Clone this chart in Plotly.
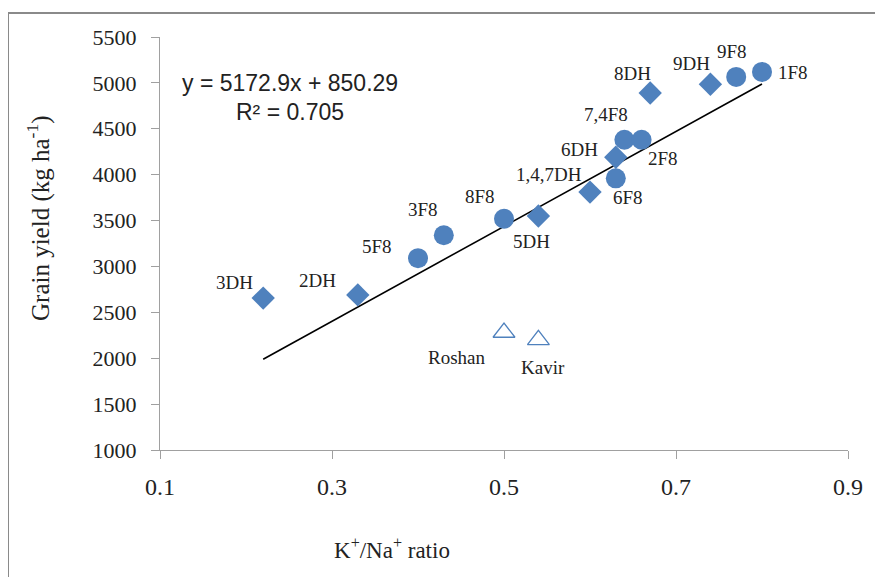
import plotly.graph_objects as go

# ---- data ----
f8_names = ["5F8", "3F8", "8F8", "6F8", "7,4F8", "2F8", "9F8", "1F8"]
f8_x = [0.40, 0.43, 0.50, 0.63, 0.64, 0.66, 0.77, 0.80]
f8_y = [3090, 3340, 3520, 3960, 4380, 4380, 5065, 5120]

dh_names = ["3DH", "2DH", "5DH", "1,4,7DH", "6DH", "8DH", "9DH"]
dh_x = [0.22, 0.33, 0.54, 0.60, 0.63, 0.67, 0.74]
dh_y = [2655, 2690, 3550, 3810, 4190, 4890, 4985]

check_names = ["Roshan", "Kavir"]
check_x = [0.50, 0.54]
check_y = [2280, 2200]

slope = 5172.9
intercept = 850.29
r2 = 0.705

x_ticks = [0.1, 0.3, 0.5, 0.7, 0.9]
y_ticks = [1000, 1500, 2000, 2500, 3000, 3500, 4000, 4500, 5000, 5500]

# label offsets in pixels (dx right, dy down)
f8_offsets = [(-41, -12), (-21, -26), (-24, -22), (12, 19), (-18, -25), (21, 19), (-4, -25), (31, 1)]
dh_offsets = [(-29, -16), (-40, -14), (-7, 26), (-41, -18), (-36, -8), (-18, -19), (-19, -21)]
check_offsets = [(-47, 25), (5, 28)]

BLUE = "#4F81BD"
SERIF = "Liberation Serif"

# plot-area geometry (page pixels, body has 8px margin)
PX0, PX1, PY0, PY1 = 160, 848, 37, 450
PW, PH = PX1 - PX0, PY1 - PY0


def px(x):
    return (x - PX0) / PW


def py(y):
    return (PY1 - y) / PH


fig = go.Figure()

# trend line over range of fitted data
all_x = f8_x + dh_x
x0, x1 = min(all_x), max(all_x)
fig.add_trace(go.Scatter(x=[x0, x1], y=[slope * x0 + intercept, slope * x1 + intercept],
                         mode="lines", line=dict(color="black", width=1.6),
                         hoverinfo="skip", showlegend=False))

fig.add_trace(go.Scatter(x=dh_x, y=dh_y, mode="markers",
                         marker=dict(symbol="diamond", size=18, color=BLUE, line=dict(width=0)),
                         text=dh_names, showlegend=False))
fig.add_trace(go.Scatter(x=f8_x, y=f8_y, mode="markers",
                         marker=dict(symbol="circle", size=20, color=BLUE, line=dict(width=0)),
                         text=f8_names, showlegend=False))
fig.add_trace(go.Scatter(x=check_x, y=check_y, mode="markers",
                         marker=dict(symbol="triangle-up-open", size=19, color=BLUE,
                                     line=dict(width=1.3, color=BLUE)),
                         text=check_names, showlegend=False))

annotations = []
for names, xs, ys, offs in [(f8_names, f8_x, f8_y, f8_offsets),
                            (dh_names, dh_x, dh_y, dh_offsets),
                            (check_names, check_x, check_y, check_offsets)]:
    for n, xv, yv, (dx, dy) in zip(names, xs, ys, offs):
        annotations.append(dict(x=xv, y=yv, xref="x", yref="y", text=n, showarrow=False,
                                xanchor="center", yanchor="middle",
                                xshift=dx, yshift=-dy,
                                font=dict(family=SERIF, size=19, color="#222")))

# regression equation
annotations.append(dict(x=px(290), y=py(83), xref="paper", yref="paper",
                        xanchor="center", yanchor="middle",
                        text=f"y = {slope}x + {intercept}", showarrow=False,
                        font=dict(family="Liberation Sans", size=23, color="#222")))
annotations.append(dict(x=px(290), y=py(112), xref="paper", yref="paper",
                        xanchor="center", yanchor="middle",
                        text=f"R² = {r2}", showarrow=False,
                        font=dict(family="Liberation Sans", size=23, color="#222")))

# axis titles
annotations.append(dict(x=px(38), y=py(218), xref="paper", yref="paper",
                        xanchor="center", yanchor="middle",
                        text="Grain yield (kg ha<sup>-1</sup>)", showarrow=False, textangle=-90,
                        font=dict(family=SERIF, size=25, color="#222")))
annotations.append(dict(x=px(392), y=py(548), xref="paper", yref="paper",
                        xanchor="center", yanchor="middle",
                        text="K<sup>+</sup>/Na<sup>+</sup> ratio", showarrow=False,
                        font=dict(family=SERIF, size=23, color="#222")))

shapes = [
    dict(type="line", xref="paper", yref="paper", x0=px(8), x1=px(900),
         y0=py(13), y1=py(13), line=dict(color="#8a8a8a", width=2)),
    dict(type="line", xref="paper", yref="paper", x0=px(8), x1=px(8),
         y0=py(13), y1=py(600), line=dict(color="#8a8a8a", width=2)),
]

fig.update_layout(
    width=883, height=577,
    margin=dict(l=PX0 - 8, r=883 - PX1 + 8, t=PY0 - 8, b=577 - PY1 + 8),
    paper_bgcolor="white", plot_bgcolor="white",
    annotations=annotations, shapes=shapes,
    xaxis=dict(range=[0.1, 0.9], tickvals=x_ticks, ticktext=[str(v) for v in x_ticks],
               showgrid=False, zeroline=False, showline=True, linecolor="#a0a0a0", linewidth=1.2,
               ticks="outside", ticklen=8, tickcolor="#a0a0a0", ticklabelstandoff=7,
               tickfont=dict(family=SERIF, size=24, color="#222")),
    yaxis=dict(range=[1000, 5500], tickvals=y_ticks,
               showgrid=False, zeroline=False, showline=True, linecolor="#a0a0a0", linewidth=1.2,
               ticks="outside", ticklen=8, tickcolor="#a0a0a0", ticklabelstandoff=10,
               tickfont=dict(family=SERIF, size=22, color="#222")),
)

fig.write_html("out.html")
